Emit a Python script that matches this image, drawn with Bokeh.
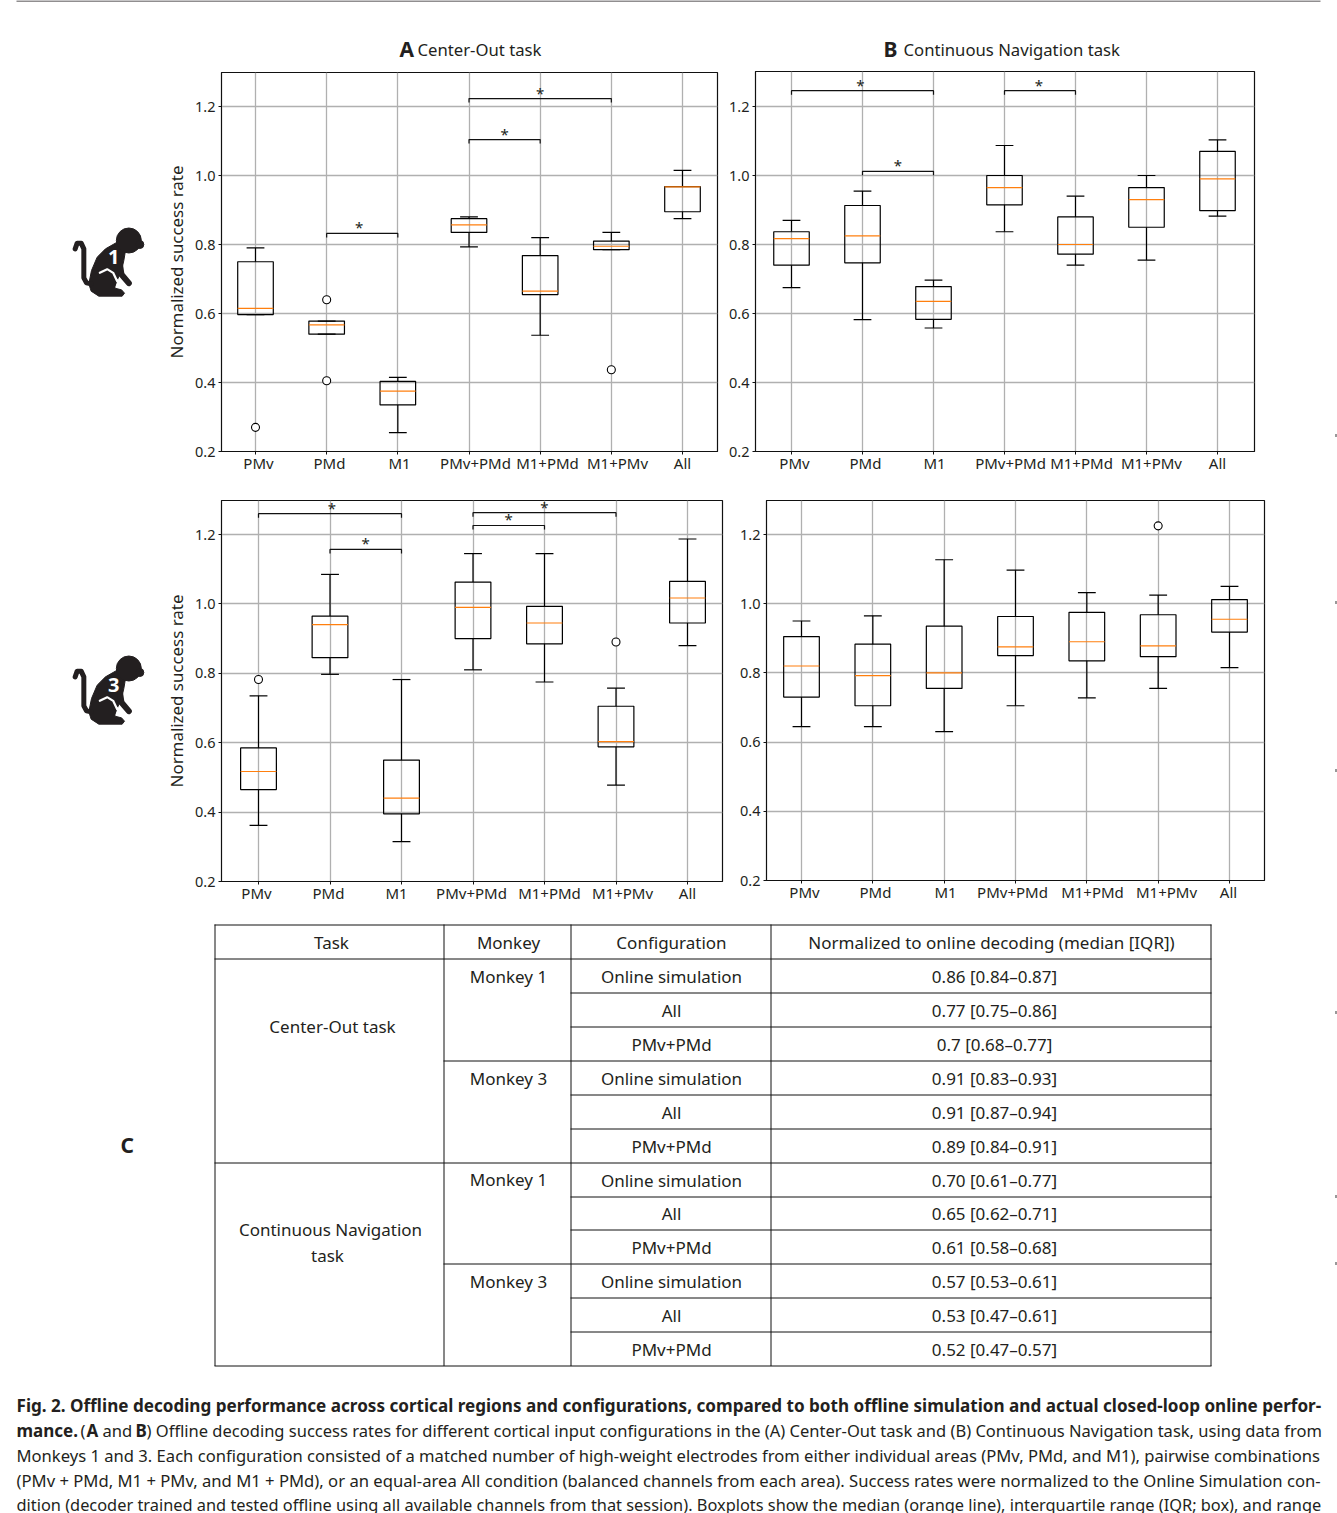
from bokeh.plotting import figure
from bokeh.models import Range1d, FixedTicker, LinearAxis
from bokeh.embed import file_html
from bokeh.resources import INLINE
from bokeh.core.properties import value
import numpy as np

FONT = "Noto Sans"
categories = ["PMv", "PMd", "M1", "PMv+PMd", "M1+PMd", "M1+PMv", "All"]
y_ticks = [0.2, 0.4, 0.6, 0.8, 1.0, 1.2]

# whisker low, q1, median, q3, whisker high
A_low = [0.597, 0.540, 0.255, 0.793, 0.537, 0.785, 0.875]
A_q1 = [0.597, 0.540, 0.335, 0.835, 0.655, 0.785, 0.895]
A_med = [0.615, 0.567, 0.375, 0.857, 0.665, 0.795, 0.967]
A_q3 = [0.750, 0.578, 0.403, 0.875, 0.768, 0.810, 0.968]
A_high = [0.790, 0.578, 0.415, 0.880, 0.820, 0.835, 1.015]
A_fliers = [(1, 0.27), (2, 0.64), (2, 0.405), (6, 0.437)]
A_brackets = [(2, 3, 0.832, -3), (4, 5, 1.104, 0), (4, 6, 1.223, 0)]

B_low = [0.675, 0.582, 0.558, 0.837, 0.740, 0.755, 0.882]
B_q1 = [0.740, 0.747, 0.583, 0.915, 0.772, 0.850, 0.898]
B_med = [0.817, 0.825, 0.635, 0.965, 0.800, 0.930, 0.990]
B_q3 = [0.837, 0.913, 0.678, 1.000, 0.880, 0.965, 1.070]
B_high = [0.870, 0.955, 0.697, 1.087, 0.940, 1.000, 1.103]
B_fliers = []
B_brackets = [(1, 3, 1.246, -2), (2, 3, 1.012, 0), (4, 5, 1.246, -1)]

C_low = [0.362, 0.797, 0.315, 0.810, 0.775, 0.478, 0.880]
C_q1 = [0.465, 0.845, 0.395, 0.900, 0.885, 0.588, 0.945]
C_med = [0.517, 0.940, 0.440, 0.990, 0.945, 0.603, 1.017]
C_q3 = [0.585, 0.965, 0.550, 1.063, 0.993, 0.705, 1.065]
C_high = [0.735, 1.085, 0.782, 1.145, 1.145, 0.757, 1.187]
C_fliers = [(1, 0.782), (6, 0.89)]
C_brackets = [(1, 3, 1.26, 2), (2, 3, 1.157, 0), (4, 5, 1.226, 0), (4, 6, 1.263, 0)]

D_low = [0.645, 0.645, 0.630, 0.705, 0.728, 0.755, 0.815]
D_q1 = [0.730, 0.705, 0.755, 0.850, 0.835, 0.847, 0.918]
D_med = [0.820, 0.792, 0.800, 0.875, 0.890, 0.878, 0.955]
D_q3 = [0.905, 0.883, 0.935, 0.963, 0.975, 0.968, 1.012]
D_high = [0.950, 0.965, 1.127, 1.097, 1.032, 1.025, 1.050]
D_fliers = [(6, 1.225)]
D_brackets = []

table_header = ["Task", "Monkey", "Configuration", "Normalized to online decoding (median [IQR])"]
table_config = ["Online simulation", "All", "PMv+PMd"] * 4
table_values = ["0.86 [0.84–0.87]", "0.77 [0.75–0.86]", "0.7 [0.68–0.77]",
                "0.91 [0.83–0.93]", "0.91 [0.87–0.94]", "0.89 [0.84–0.91]",
                "0.70 [0.61–0.77]", "0.65 [0.62–0.71]", "0.61 [0.58–0.68]",
                "0.57 [0.53–0.61]", "0.53 [0.47–0.61]", "0.52 [0.47–0.57]"]

caption = [
    [("Fig. 2. Offline decoding performance across cortical regions and configurations, compared to both offline simulation and actual closed-loop online perfor-", 16, True, 17.1)],
    [("mance.", 16, True, 17), ("(", 80, False, 16.6), ("A", 86, True, 17), ("and", 102, False, 16.6), ("B", 135, True, 17),
     (") Offline decoding success rates for different cortical input configurations in the (A) Center-Out task and (B) Continuous Navigation task, using data from", 146, False, 16.52)],
    [("Monkeys 1 and 3. Each configuration consisted of a matched number of high-weight electrodes from either individual areas (PMv, PMd, and M1), pairwise combinations", 16, False, 16.6)],
    [("(PMv + PMd, M1 + PMv, and M1 + PMd), or an equal-area All condition (balanced channels from each area). Success rates were normalized to the Online Simulation con-", 16, False, 16.65)],
    [("dition (decoder trained and tested offline using all available channels from that session). Boxplots show the median (orange line), interquartile range (IQR; box), and range", 16, False, 16.37)],
]
caption_y = [1406, 1431, 1456, 1481, 1505]

# ---------------- page layer (pixel coordinates)
page = figure(width=1337, height=1513, x_range=Range1d(0, 1337), y_range=Range1d(1514, 1),
              x_axis_type=None, y_axis_type=None, toolbar_location=None, output_backend="svg",
              min_border=0, outline_line_color=None, margin=(0, 0, 0, 0))
page.grid.visible = False


def ptext(x, y, s, size=17, bold=False, align="left", angle=0.0, color="#231f20"):
    page.text([x], [y], text=[s], text_font=value(FONT), text_font_size=f"{size}px",
              text_font_style="bold" if bold else "normal", text_align=align,
              text_baseline="middle", text_color=color, angle=angle)


page.segment([16], [1.5], [1320], [1.5], line_color="#231f20", line_width=1)
for yy in [436, 603, 771, 1013, 1197, 1264]:
    page.segment([1335.5], [yy - 1.5], [1335.5], [yy + 1.5], line_color="#999999", line_width=2)

ptext(399, 49, "A", 21, True)
ptext(417, 50, "Center-Out task", 16.7)
ptext(883, 49, "B", 21, True)
ptext(903, 50, "Continuous Navigation task", 16.7)
ptext(120, 1145, "C", 21, True)


def monkey(dy, label):
    def T(pts):
        return [60 + a / 3 for a, b in pts], [31 + dy + b / 3 for a, b in pts]
    col = "#231f20"
    # torso and seated haunch
    body = [(170, 635), (135, 655), (110, 680), (93, 720), (85, 760), (92, 782), (115, 797), (185, 797),
            (192, 788), (183, 778), (163, 773), (172, 745), (183, 720), (190, 690), (195, 660), (205, 650)]
    bx, by = T(body)
    page.patch(bx, by, fill_color=col, line_color=col)
    hx, hy = T([(205, 630)])
    page.scatter(hx, hy, size=25, marker="circle", fill_color=col, line_color=col)
    mx, my = T([(238, 642)])
    page.scatter(mx, my, size=8, marker="circle", fill_color=col, line_color=col)
    tx, ty = T([(92, 760), (78, 757), (70, 742), (70, 655), (62, 638), (50, 638), (44, 655)])
    page.line(tx, ty, line_color=col, line_width=5, line_cap="round", line_join="round")
    # gap between thigh and arm
    gx, gy = T([(118, 727), (140, 716), (158, 727), (170, 752)])
    page.line(gx, gy, line_color="white", line_width=2.2, line_cap="round")
    wx, wy = T([(165, 742), (185, 762), (182, 772), (166, 770), (172, 752)])
    page.patch(wx, wy, fill_color="white", line_color="white")
    ax_, ay_ = T([(178, 700), (183, 732), (205, 758)])
    page.line(ax_, ay_, line_color=col, line_width=6, line_cap="round", line_join="round")
    lx, ly = T([(160, 680)])
    page.text(lx, ly, text=[label], text_font=value(FONT), text_font_size="20px", text_font_style="bold",
              text_color="white", text_align="center", text_baseline="middle")


monkey(0, "1")
monkey(428, "3")

# table
tx0, tx1, tx2, tx3, tx4 = 214, 443, 570, 770, 1210
row_y = [925, 959, 993, 1027, 1061, 1095, 1129, 1163, 1197, 1230, 1264, 1298, 1332, 1366]
for xx in (tx0, tx1, tx2, tx3, tx4):
    page.segment([xx + .5], [925], [xx + .5], [1366.5], line_color="#111111", line_width=1)
for i, yy in enumerate(row_y):
    start = tx2
    if i in (0, 1, 7, 13):
        start = tx0
    elif i in (4, 10):
        start = tx1
    page.segment([start], [yy + .5], [tx4 + 1], [yy + .5], line_color="#111111", line_width=1)
TS = 17
for cx, s in zip((331, 508, 671, 991), table_header):
    ptext(cx, 943, s, TS, align="center")
for i, (c, v) in enumerate(zip(table_config, table_values)):
    cy = (row_y[i + 1] + row_y[i + 2]) / 2 + 0.5
    ptext(671, cy, c, TS, align="center")
    ptext(994, cy, v, TS, align="center")
for yy, s in zip((977, 1079, 1180, 1282), ("Monkey 1", "Monkey 3", "Monkey 1", "Monkey 3")):
    ptext(508, yy, s, TS, align="center")
ptext(332, 1027, "Center-Out task", TS, align="center")
ptext(330, 1230, "Continuous Navigation", TS, align="center")
ptext(327, 1256, "task", TS, align="center")

for line, yy in zip(caption, caption_y):
    for s, xx, b, sz in line:
        ptext(xx, yy, s, sz, b)

BL, BR, BT, BB = 70, 4, 4, 42


# ---------------- chart panels
def panel(low, q1, med, q3, high, fliers, brackets, left, top, right, bottom, grid0, grid6, y12, y02,
          label_px, ylabel, flow_y):
    w = right - left
    h = bottom - top
    step = (grid6 - grid0) / 6
    x_lo = 1 + (left - grid0) / step
    x_hi = 1 + (right - grid0) / step
    y_scale = (y02 - y12) / 1.0
    y_hi = 0.2 + (y02 - top) / y_scale
    y_lo = 0.2 - (bottom - y02) / y_scale
    p = figure(width=w + BL + BR, height=h + BT + BB, x_range=Range1d(x_lo, x_hi), y_range=Range1d(y_lo, y_hi),
               toolbar_location=None, output_backend="svg", min_border_left=BL, min_border_right=BR,
               min_border_top=BT, min_border_bottom=BB, background_fill_alpha=0, border_fill_alpha=0,
               outline_line_color="#111111", outline_line_width=1.2,
               margin=(top - BT - flow_y, 0, 0, left - BL))
    xs = np.arange(1, len(categories) + 1, dtype=float)
    low, q1, med, q3, high = map(np.array, (low, q1, med, q3, high))
    hw, cw = 0.25, 0.125
    p.xgrid.ticker = FixedTicker(ticks=list(xs))
    p.ygrid.ticker = FixedTicker(ticks=y_ticks)
    p.grid.grid_line_color = "#b0b0b0"
    p.grid.grid_line_width = 1.3

    ax = p.xaxis[0]
    ax.ticker = FixedTicker(ticks=list(xs))
    ax.major_label_overrides = {float(t): "" for t in xs}
    ax.major_label_text_font_size = "1px"
    ax.major_label_standoff = 0
    ax.major_tick_in = 0
    ax.major_tick_out = 3
    ax.minor_tick_out = 0
    ax.minor_tick_in = 0
    ax.axis_line_color = "#111111"
    ax.major_tick_line_color = "#111111"

    lab_pos = [round(1 + (v - grid0) / step, 3) for v in label_px]
    ax2 = LinearAxis(ticker=FixedTicker(ticks=lab_pos),
                     major_label_overrides={k: c for k, c in zip(lab_pos, categories)},
                     major_tick_in=0, major_tick_out=0, minor_tick_in=0, minor_tick_out=0,
                     axis_line_color=None, major_label_standoff=-2,
                     major_label_text_font=FONT, major_label_text_font_size="15px",
                     major_label_text_color="#231f20")
    p.add_layout(ax2, "below")

    ya = p.yaxis[0]
    ya.ticker = FixedTicker(ticks=y_ticks)
    ya.major_tick_in = 0
    ya.major_tick_out = 3
    ya.minor_tick_in = 0
    ya.minor_tick_out = 0
    ya.major_label_standoff = 3
    ya.major_label_text_font = FONT
    ya.major_label_text_font_size = "14.5px"
    ya.major_label_text_color = "#231f20"
    ya.axis_line_color = "#111111"
    ya.major_tick_line_color = "#111111"
    ya.major_label_overrides = {t: f"{t:.1f}" for t in y_ticks}
    if ylabel:
        ya.axis_label = ylabel
        ya.axis_label_text_font = FONT
        ya.axis_label_text_font_style = "normal"
        ya.axis_label_text_font_size = "16.9px"
        ya.axis_label_text_color = "#231f20"
        ya.axis_label_standoff = 4

    p.segment(xs, q3, xs, high, line_color="black", line_width=1.2)
    p.segment(xs, low, xs, q1, line_color="black", line_width=1.2)
    p.segment(xs - cw, high, xs + cw, high, line_color="black", line_width=1.2)
    p.segment(xs - cw, low, xs + cw, low, line_color="black", line_width=1.2)
    p.quad(left=xs - hw, right=xs + hw, bottom=q1, top=q3, fill_color=None, line_color="black", line_width=1.2)
    p.segment(xs - hw, med, xs + hw, med, line_color="#ff7f0e", line_width=1.2)
    if fliers:
        fx = [a for a, b in fliers]
        fy = [b for a, b in fliers]
        p.scatter(fx, fy, marker="circle", size=8, fill_color="white", line_color="black", line_width=1.1)
    d = 4 / y_scale
    for i, j, yy, off in brackets:
        p.line([i, i, j, j], [yy - d, yy, yy, yy - d], line_color="#111111", line_width=1.2)
        p.text([(i + j) / 2], [yy], text=["*"], text_font=value(FONT), text_font_size="15px",
               text_align="center", text_baseline="bottom", text_color="#231f20", x_offset=off, y_offset=4)
    return p


pa = panel(A_low, A_q1, A_med, A_q3, A_high, A_fliers, A_brackets, 221, 72, 717, 451, 255, 682, 106, 451,
           [258, 329, 399, 475, 547, 617, 682], "Normalized success rate", 1513)
pb = panel(B_low, B_q1, B_med, B_q3, B_high, B_fliers, B_brackets, 755, 71, 1254, 451, 791, 1217, 106, 451,
           [794, 865, 934, 1010, 1081, 1151, 1217], None, 451 + BB)
pc = panel(C_low, C_q1, C_med, C_q3, C_high, C_fliers, C_brackets, 221, 500, 722, 881, 258, 687, 534, 881,
           [256, 328, 396, 471, 549, 622, 687], "Normalized success rate", 451 + BB)
pd_ = panel(D_low, D_q1, D_med, D_q3, D_high, D_fliers, D_brackets, 766, 500, 1264, 880, 801, 1229, 534, 880,
            [804, 875, 945, 1012, 1092, 1166, 1228], None, 881 + BB)

open("out.html", "w").write(file_html([page, pa, pb, pc, pd_], INLINE))
